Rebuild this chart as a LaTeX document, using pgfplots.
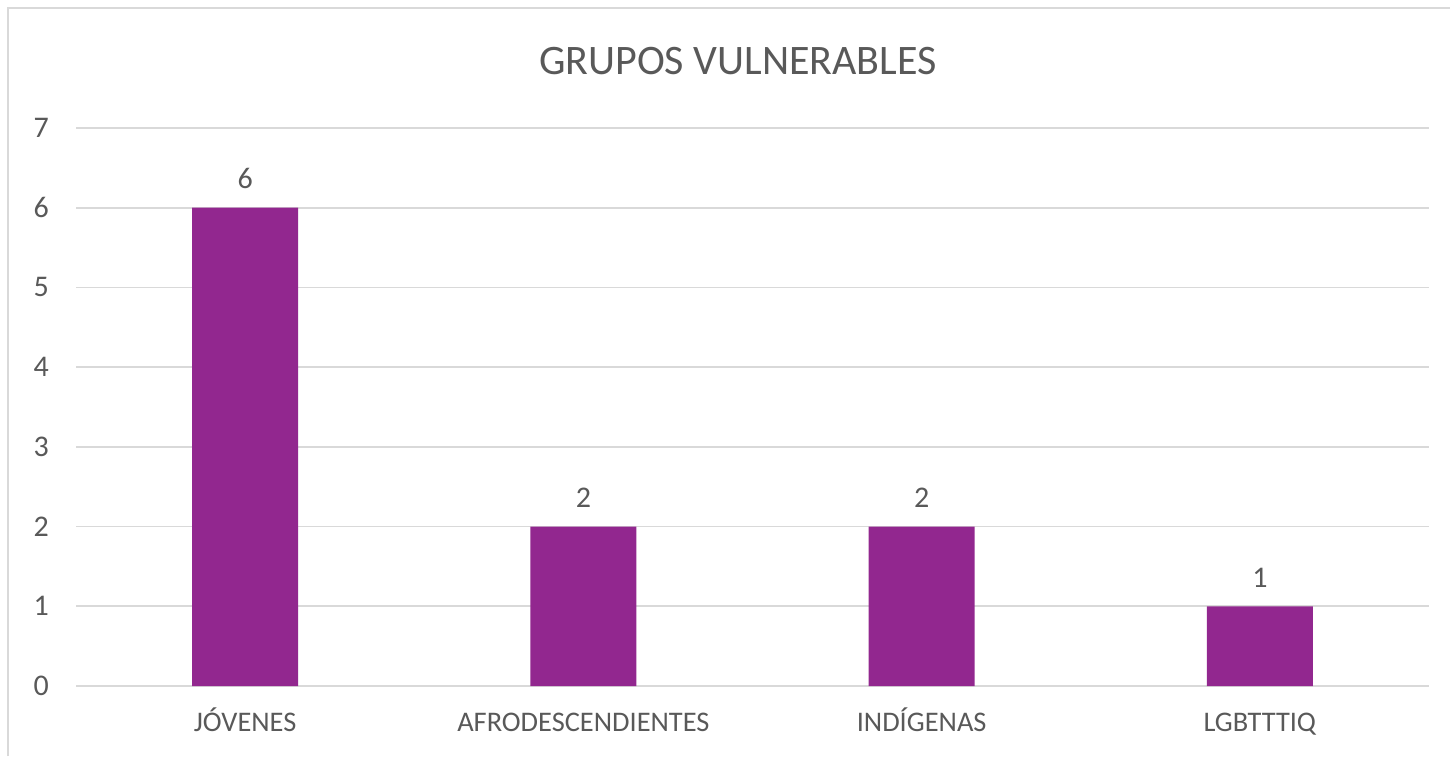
\documentclass[border=0pt]{standalone}
\usepackage{fontspec}
\setmainfont{Carlito}
\usepackage{pgfplots}
\pgfplotsset{compat=1.18}
\definecolor{barc}{HTML}{92278F}
\definecolor{txt}{HTML}{595959}
\definecolor{gridc}{HTML}{D9D9D9}
\begin{document}
\begin{tikzpicture}[x=1pt,y=1pt]
\path[use as bounding box] (0,0) rectangle (725,378);
\draw[gridc, line width=1.2pt] (4,0) -- (4,374) -- (725,374);
\node[text=txt, font=\fontsize{21}{25}\selectfont] at (369,347.5) {GRUPOS VULNERABLES};
\begin{axis}[at={(38pt,35pt)}, anchor=south west, scale only axis,
  width=676.5pt, height=279pt,
  xmin=-0.5, xmax=3.5, ymin=0, ymax=7,
  ybar, bar width=53pt,
  axis line style={draw=none},
  ymajorgrids, grid style={gridc, line width=0.8pt},
  ytick={0,1,...,7}, xtick={0,1,2,3},
  xticklabels={JÓVENES, AFRODESCENDIENTES, INDÍGENAS, LGBTTTIQ},
  major tick length=0pt, tick style={draw=none},
  /pgf/number format/assume math mode=true,
  yticklabel style={font=\fontsize{15}{18}\selectfont, text=txt, xshift=-10pt},
  xticklabel style={font=\fontsize{14.2}{17}\selectfont, text=txt, anchor=base, yshift=-22.5pt},
  nodes near coords,
  nodes near coords style={font=\fontsize{15}{18}\selectfont, text=txt, yshift=6pt},
]
\addplot[fill=barc, draw=none] coordinates {(0,6) (1,2) (2,2) (3,1)};
\end{axis}
\end{tikzpicture}
\end{document}
